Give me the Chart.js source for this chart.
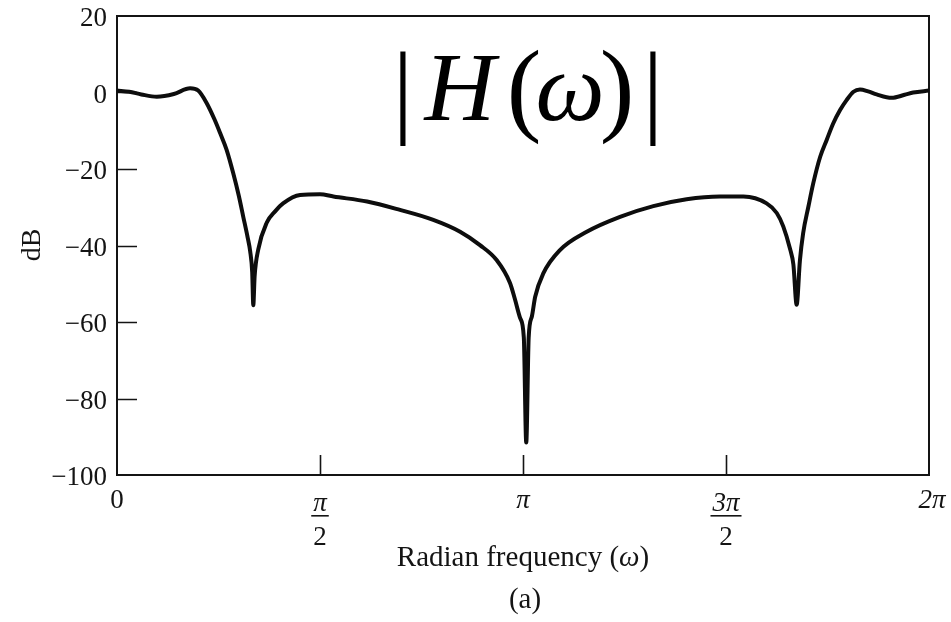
<!DOCTYPE html>
<html>
<head>
<meta charset="utf-8">
<script src="https://cdn.jsdelivr.net/npm/chart.js@4.4.1/dist/chart.umd.min.js"></script>
<style>
  html, body { margin: 0; padding: 0; background: #fff; }
  #wrap { width: 951px; height: 622px; position: relative; }
</style>
</head>
<body>
<div id="wrap"><canvas id="c" width="951" height="622"></canvas></div>
<script>
// Radian frequency, in units of π
const omega = [
  0.000, 0.030, 0.060, 0.098, 0.140, 0.180, 0.200, 0.221, 0.240, 0.254,
  0.270, 0.286, 0.300, 0.311, 0.322, 0.328, 0.333, 0.3357, 0.339, 0.348,
  0.369, 0.390, 0.409, 0.451, 0.500, 0.533, 0.616, 0.697, 0.779, 0.845,
  0.894, 0.935, 0.968, 0.980, 0.993, 1.002, 1.008, 1.014, 1.022, 1.030,
  1.050, 1.091, 1.157, 1.239, 1.321, 1.403, 1.485, 1.543, 1.600, 1.625,
  1.641, 1.658, 1.666, 1.674, 1.682, 1.690, 1.703, 1.715, 1.732, 1.748,
  1.764, 1.781, 1.797, 1.814, 1.830, 1.850, 1.871, 1.908, 1.940, 1.961,
  2.000
];
// Magnitude response |H(ω)| in dB
const magnitudeDb = [
   0.5,   0.2,  -0.5,  -1.1,  -0.4,   1.1,   0.5,  -2.8,  -7.0, -10.6,
 -15.0, -21.0, -27.0, -32.5, -38.0, -41.5, -47.0, -55.6, -48.0, -41.0,
 -34.0, -31.0, -29.0, -26.8, -26.6, -27.2, -28.5, -30.7, -33.3, -36.4,
 -39.9, -43.8, -49.8, -54.0, -59.0, -64.0, -91.5, -64.0, -58.5, -53.4,
 -47.3, -41.2, -36.4, -32.5, -29.7, -27.9, -27.2, -27.2, -29.0, -31.5,
 -35.0, -41.0, -45.0, -55.5, -44.0, -36.8, -29.8, -23.7, -16.8, -12.4,
  -8.1,  -4.6,  -2.0,   0.2,   0.8,   0.3,  -0.5,  -1.4,  -0.6,   0.0,
   0.5
];

const xTickValues = [0, 0.5, 1, 1.5, 2];
// numerator / denominator of each tick; denominator empty for whole multiples
const xTickNumerators = ['0', 'π', 'π', '3π', '2π'];
const xTickDenominators = ['', '2', '', '2', ''];
const yTickValues = [20, 0, -20, -40, -60, -80, -100];

const SERIF = '"Liberation Serif", "DejaVu Serif", serif';
const INK = '#141414';

function fmtDb(v) {
  return v < 0 ? '\u2212' + Math.abs(v) : String(v);
}

// axis frame, inward ticks and all labels
const framePlugin = {
  id: 'frame',
  beforeDatasetsDraw(chart) {
    const { ctx, chartArea: a, scales } = chart;
    ctx.save();
    ctx.strokeStyle = INK;
    ctx.lineWidth = 2;
    ctx.strokeRect(a.left, a.top, a.right - a.left, a.bottom - a.top);
    ctx.lineWidth = 1.6;
    ctx.beginPath();
    yTickValues.forEach(v => {
      if (v === 20 || v === -100) return;
      const y = Math.round(scales.y.getPixelForValue(v)) + 0.5;
      ctx.moveTo(a.left, y); ctx.lineTo(a.left + 20, y);
    });
    xTickValues.forEach(v => {
      if (v === 0 || v === 2) return;
      const x = Math.round(scales.x.getPixelForValue(v)) + 0.5;
      ctx.moveTo(x, a.bottom); ctx.lineTo(x, a.bottom - 20);
    });
    ctx.stroke();
    ctx.restore();
  },
  afterDraw(chart) {
    const { ctx, chartArea: a, scales } = chart;
    ctx.save();
    ctx.fillStyle = INK;

    // y tick labels
    ctx.font = '27px ' + SERIF;
    ctx.textAlign = 'right';
    ctx.textBaseline = 'middle';
    yTickValues.forEach(v => {
      ctx.fillText(fmtDb(v), a.left - 10, scales.y.getPixelForValue(v) + 3);
    });

    // x tick labels, fractions of π
    ctx.textAlign = 'center';
    xTickValues.forEach((v, i) => {
      const x = scales.x.getPixelForValue(v) + (v === 2 ? 3 : 0);
      const num = xTickNumerators[i];
      const den = xTickDenominators[i];
      ctx.font = (num === '0' ? '' : 'italic ') + '27px ' + SERIF;
      ctx.textBaseline = 'alphabetic';
      if (!den) {
        ctx.fillText(num, x, a.bottom + 33);
      } else {
        ctx.fillText(num, x, a.bottom + 36);
        const w = ctx.measureText(num).width + 4;
        ctx.fillRect(x - w / 2, a.bottom + 40, w, 1.6);
        ctx.font = '27px ' + SERIF;
        ctx.fillText(den, x, a.bottom + 70);
      }
    });

    // x axis title
    ctx.textBaseline = 'alphabetic';
    const tx = (a.left + a.right) / 2;
    const ty = 566;
    const partA = 'Radian frequency (';
    const partB = '\u03c9';
    const partC = ')';
    ctx.font = '29px ' + SERIF;
    const wA = ctx.measureText(partA).width;
    const wC = ctx.measureText(partC).width;
    ctx.font = 'italic 29px ' + SERIF;
    const wB = ctx.measureText(partB).width;
    const sx = tx - (wA + wB + wC) / 2;
    ctx.textAlign = 'left';
    ctx.font = '29px ' + SERIF;
    ctx.fillText(partA, sx, ty);
    ctx.font = 'italic 29px ' + SERIF;
    ctx.fillText(partB, sx + wA, ty);
    ctx.font = '29px ' + SERIF;
    ctx.fillText(partC, sx + wA + wB, ty);

    // panel label
    ctx.textAlign = 'center';
    ctx.font = '29px ' + SERIF;
    ctx.fillText('(a)', 525, 608);

    // y axis title
    ctx.save();
    ctx.translate(40, 245);
    ctx.rotate(-Math.PI / 2);
    ctx.font = '28px ' + SERIF;
    ctx.textAlign = 'center';
    ctx.textBaseline = 'alphabetic';
    ctx.fillText('dB', 0, 0);
    ctx.restore();

    // in-plot heading |H(ω)|
    ctx.fillStyle = '#000';
    ctx.textBaseline = 'alphabetic';
    ctx.textAlign = 'center';
    const base = 120;
    ctx.font = '104px ' + SERIF;
    ctx.fillText('|', 403, base + 4);
    ctx.fillText('(', 524, base + 2);
    ctx.fillText(')', 617, base + 2);
    ctx.fillText('|', 653, base + 4);
    ctx.font = 'italic 98px ' + SERIF;
    ctx.fillText('H', 460, base);
    ctx.fillText('\u03c9', 570, base);
    ctx.restore();
  }
};

const points = omega.map((w, i) => ({ x: w, y: magnitudeDb[i] }));

new Chart(document.getElementById('c'), {
  type: 'line',
  data: {
    datasets: [{
      data: points,
      borderColor: '#0d0d0d',
      borderWidth: 4,
      pointRadius: 0,
      fill: false,
      cubicInterpolationMode: 'monotone'
    }]
  },
  options: {
    responsive: false,
    devicePixelRatio: 1,
    animation: false,
    layout: { padding: { left: 117, right: 22, top: 16, bottom: 147 } },
    plugins: { legend: { display: false }, tooltip: { enabled: false } },
    scales: {
      x: { type: 'linear', min: 0, max: 2, display: false },
      y: { type: 'linear', min: -100, max: 20, display: false }
    }
  },
  plugins: [framePlugin]
});
</script>
</body>
</html>
